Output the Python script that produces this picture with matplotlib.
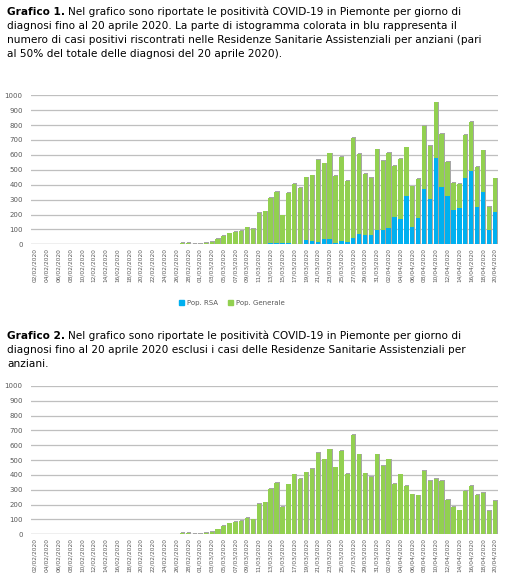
import numpy as np
import pandas as pd
import matplotlib
matplotlib.use('Agg')
import matplotlib.pyplot as plt
from matplotlib.patches import Patch

# giorni di diagnosi 02/02/2020 -> 20/04/2020
dates = pd.date_range('2020-02-02', '2020-04-20', freq='D')
labels = [d.strftime('%d/%m/%Y') for d in dates]

# casi popolazione generale (senza RSA)
generale = [0] * 25 + [
    9, 9, 2, 2, 9, 16, 34, 56, 74, 83, 90, 110, 101, 204, 216, 306, 348, 187,
    337, 404, 373, 418, 440, 548, 506, 573, 452, 562, 409, 670, 539, 411, 387,
    539, 461, 506, 342, 404, 326, 270, 263, 427, 360, 373, 360, 231, 184, 162,
    292, 326, 265, 279, 157, 225]

# casi nelle RSA
rsa = [0] * 36 + [
    3, 3, 5, 5, 6, 6, 7, 7, 4, 4, 31, 23, 18, 37, 37, 8, 25, 18, 45, 70, 64,
    60, 98, 97, 108, 186, 168, 324, 119, 178, 368, 302, 579, 382, 324, 230,
    243, 442, 494, 253, 351, 93, 218]

GREEN = '#92d050'
BLUE = '#00b0f0'
SHADOW = '#a6a6a6'
GRID = '#bfbfbf'
TXT = '#595959'

x = np.arange(len(labels))
generale = np.array(generale)
rsa = np.array(rsa)

fig = plt.figure(figsize=(5.13, 5.75), dpi=100)


def setup_axes(ax):
    ax.set_ylim(0, 1000)
    ax.set_xlim(-0.65, len(labels) - 0.45)
    ax.set_yticks(range(0, 1001, 100))
    ax.yaxis.grid(True, color=GRID, lw=0.9)
    ax.set_axisbelow(True)
    for s in ax.spines.values():
        s.set_visible(False)
    ax.set_xticks(x[::2])
    ax.set_xticklabels(labels[::2], rotation=90, fontsize=4.2, color=TXT)
    ax.tick_params(axis='y', labelsize=5, labelcolor=TXT, length=0, pad=6)
    ax.tick_params(axis='x', length=0, pad=3)
    ax.axhline(0, color=GRID, lw=0.9, zorder=1)


def draw_shadow(ax, tot):
    mask = tot > 0
    ax.bar(x[mask] + 0.12, tot[mask] + 5, width=0.75, color=SHADOW,
           zorder=2, linewidth=0)


def write_caption(y, title, lines):
    t = fig.text(7 / 513, y, title, fontsize=7.6, fontweight='bold',
                 va='center', ha='left')
    fig.canvas.draw()
    bb = t.get_window_extent()
    fig.text(bb.x1 / fig.bbox.width + 0.006, y, lines[0], fontsize=7.6,
             va='center', ha='left')
    for k, ln in enumerate(lines[1:], start=1):
        fig.text(7 / 513, y - k * 14 / 575, ln, fontsize=7.6,
                 va='center', ha='left')


# Grafico 1
write_caption(1 - 12 / 575, 'Grafico 1.', [
    'Nel grafico sono riportate le positività COVID-19 in Piemonte per giorno di',
    'diagnosi fino al 20 aprile 2020. La parte di istogramma colorata in blu rappresenta il',
    'numero di casi positivi riscontrati nelle Residenze Sanitarie Assistenziali per anziani (pari',
    'al 50% del totale delle diagnosi del 20 aprile 2020).'])

ax1 = fig.add_axes([31 / 513, 330.7 / 575, 467 / 513, 149 / 575])
setup_axes(ax1)
draw_shadow(ax1, generale + rsa)
ax1.bar(x, rsa, width=0.75, color=BLUE, zorder=3, linewidth=0)
ax1.bar(x, generale, bottom=rsa, width=0.75, color=GREEN, zorder=3, linewidth=0)

handles = [Patch(color=BLUE, label='Pop. RSA'), Patch(color=GREEN, label='Pop. Generale')]
fig.legend(handles=handles, loc='center', bbox_to_anchor=(232 / 513, 1 - 303 / 575),
           ncol=2, frameon=False, fontsize=5, handlelength=0.7, handleheight=0.7,
           handletextpad=0.4, columnspacing=1.5, labelcolor=TXT)

# Grafico 2
write_caption(1 - 336 / 575, 'Grafico 2.', [
    'Nel grafico sono riportate le positività COVID-19 in Piemonte per giorno di',
    'diagnosi fino al 20 aprile 2020 esclusi i casi delle Residenze Sanitarie Assistenziali per',
    'anziani.'])

ax2 = fig.add_axes([31 / 513, 40.7 / 575, 467 / 513, 148.3 / 575])
setup_axes(ax2)
draw_shadow(ax2, generale)
ax2.bar(x, generale, width=0.75, color=GREEN, zorder=3, linewidth=0)

fig.savefig('out.png', dpi=100)
